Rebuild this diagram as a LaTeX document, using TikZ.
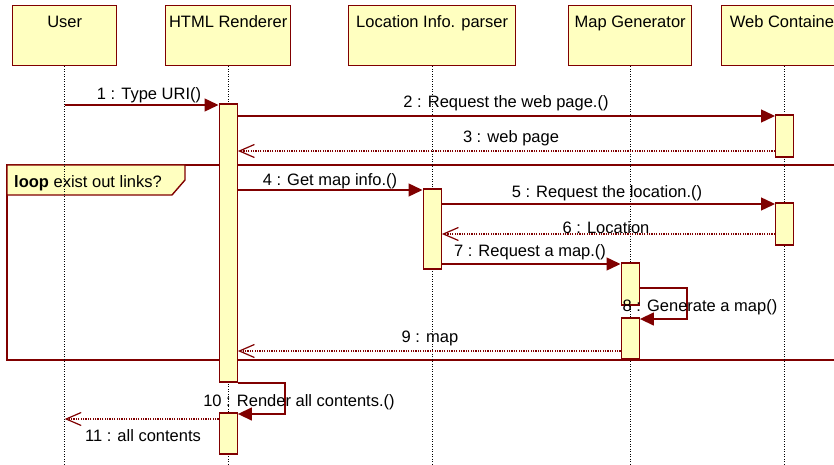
\documentclass[tikz,border=0pt]{standalone}
\usepackage{fontspec}
\setmainfont{Liberation Sans}
\usetikzlibrary{arrows.meta}
\definecolor{brd}{RGB}{128,0,0}
\definecolor{fillY}{RGB}{255,255,192}
\begin{document}
\begin{tikzpicture}[x=1pt,y=-1pt,
  every node/.style={font=\fontsize{16.5}{19}\selectfont, text=black},
  head/.style={draw=brd, fill=fillY, line width=1.4pt, anchor=north west, inner sep=0pt, minimum height=60pt},
  act/.style={draw=brd, fill=fillY, line width=1.4pt, minimum width=18pt, inner sep=0pt},
  life/.style={black, line width=0.9pt, dash pattern=on 1pt off 1.5pt},
  msg/.style={brd, line width=1.4pt, -{Triangle[length=14pt,width=13pt]}},
  ret/.style={brd, line width=1.2pt, dash pattern=on 1.2pt off 1.2pt, -{Straight Barb[length=15pt,width=13pt]}},
  lbl/.style={anchor=base, inner sep=0pt},
  frame/.style={draw=brd, line width=1.4pt}
]
\useasboundingbox (0,0) rectangle (834,465);
\clip (0,0) rectangle (834,465);
% headers
\node[head, minimum width=104pt] (hU) at (12,5) {};
\node[head, minimum width=125pt] (hH) at (165,5) {};
\node[head, minimum width=167pt] (hL) at (348,5) {};
\node[head, minimum width=123pt] (hM) at (568,5) {};
\node[head, minimum width=126pt] (hW) at (721,5) {};
\node[lbl] (tU) at (hU.north |- 0,28) {User};
\node[lbl] (tH) at (hH.north |- 0,28) {HTML Renderer};
\node[lbl] (tL) at (hL.north |- 0,28) {Location Info. parser};
\node[lbl] (tM) at (hM.north |- 0,28) {Map Generator};
\node[lbl] (tW) at (hW.north |- 0,28) {Web Container};
% loop frame
\draw[frame] (7,165) rectangle (850,360);
\draw[frame, fill=fillY] (7,165) -- (185,165) -- (185,180) -- (172,195) -- (7,195) -- cycle;
\node[lbl, anchor=base west] (loopT) at (14,187) {\textbf{loop} exist out links?};
% lifelines
\draw[life] (hU.south) -- (hU.south |- 0,465);
\draw[life] (hH.south) -- (hH.south |- 0,465);
\draw[life] (hL.south) -- (hL.south |- 0,465);
\draw[life] (hM.south) -- (hM.south |- 0,465);
\draw[life] (hW.south) -- (hW.south |- 0,465);
% activations
\node[act, minimum height=278pt] (a1) at (hH.south |- 0,243) {};
\node[act, minimum height=41pt] (a2) at (hH.south |- 0,433.5) {};
\node[act, minimum height=42pt] (w1) at (hW.south |- 0,136) {};
\node[act, minimum height=42pt] (w2) at (hW.south |- 0,224) {};
\node[act, minimum height=80pt] (l1) at (hL.south |- 0,229) {};
\node[act, minimum height=42pt] (m1) at (hM.south |- 0,284) {};
\node[act, minimum height=41pt] (m2) at (hM.south |- 0,338.5) {};
% messages
\draw[msg] (hU.south |- 0,105) -- (a1.west |- 0,105);
\draw[msg] (a1.east |- 0,116) -- (w1.west |- 0,116);
\draw[ret] (w1.west |- 0,151) -- (a1.east |- 0,151);
\draw[msg] (a1.east |- 0,190) -- (l1.west |- 0,190);
\draw[msg] (l1.east |- 0,204) -- (w2.west |- 0,204);
\draw[ret] (w2.west |- 0,234) -- (l1.east |- 0,234);
\draw[msg] (l1.east |- 0,264) -- (m1.west |- 0,264);
\draw[msg] (m1.east |- 0,288) -- (687,288) -- (687,319) -- (m2.east |- 0,319);
\draw[ret] (m2.west |- 0,351) -- (a1.east |- 0,351);
\draw[msg] (a1.east |- 0,383) -- (285,383) -- (285,414) -- (a2.east |- 0,414);
\draw[ret] (a2.west |- 0,419) -- (hU.south |- 0,419);
% labels
\node[lbl] (L1) at (149,100) {1 : Type URI()};
\node[lbl] (L2) at (506,108) {2 : Request the web page.()};
\node[lbl] (L3) at (511,143) {3 : web page};
\node[lbl] (L4) at (330,185) {4 : Get map info.()};
\node[lbl] (L5) at (607,197) {5 : Request the location.()};
\node[lbl] (L6) at (606,233) {6 : Location};
\node[lbl] (L7) at (530,256) {7 : Request a map.()};
\node[lbl] (L8) at (700,311) {8 : Generate a map()};
\node[lbl] (L9) at (430,342) {9 : map};
\node[lbl] (L10) at (299,406) {10 : Render all contents.()};
\node[lbl] (L11) at (143,441) {11 : all contents};
\end{tikzpicture}
\end{document}
